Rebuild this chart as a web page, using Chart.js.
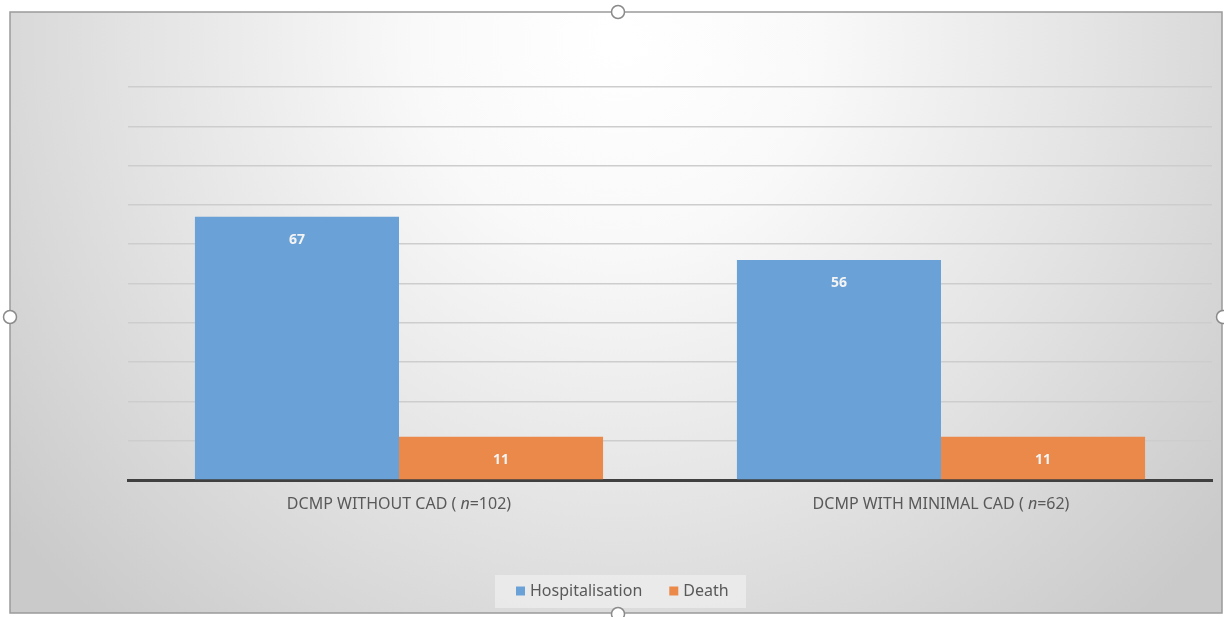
<!DOCTYPE html>
<html><head><meta charset="utf-8">
<script src="https://cdn.jsdelivr.net/npm/chart.js@4/dist/chart.umd.min.js"></script>
<style>html,body{margin:0;padding:0;background:#fff;}canvas{display:block;}</style>
</head><body>
<canvas id="c" width="1224" height="617"></canvas>
<script>
const categories = ["DCMP WITHOUT CAD", "DCMP WITH MINIMAL CAD"];
const groupSizes = [102, 62];
const seriesNames = ["Hospitalisation", "Death"];
const hospitalisation = [67, 56];
const death = [11, 11];
const yTicks = [0, 10, 20, 30, 40, 50, 60, 70, 80, 90, 100];

const FONT = "'Noto Sans', 'Open Sans', sans-serif";

const framePlugin = {
  id: 'frame',
  beforeDraw(chart) {
    const ctx = chart.ctx;
    const W = chart.width, H = chart.height;
    ctx.save();
    ctx.fillStyle = '#ffffff';
    ctx.fillRect(0, 0, W, H);
    const x0 = 10, y0 = 12, x1 = 1222, y1 = 613;
    const g = ctx.createRadialGradient(618, 40, 10, 618, 40, 780);
    g.addColorStop(0, '#ffffff');
    g.addColorStop(0.25, '#f9f9f9');
    g.addColorStop(0.6, '#e4e4e4');
    g.addColorStop(1, '#cacaca');
    ctx.fillStyle = g;
    ctx.fillRect(x0, y0, x1 - x0, y1 - y0);
    ctx.strokeStyle = '#9a9a9a';
    ctx.lineWidth = 1.5;
    ctx.strokeRect(x0, y0, x1 - x0, y1 - y0);
    ctx.restore();
  },
  afterDraw(chart) {
    const ctx = chart.ctx;
    ctx.save();
    const handles = [[618, 12], [10, 317], [1223, 317], [618, 614]];
    handles.forEach(([hx, hy]) => {
      ctx.beginPath();
      ctx.arc(hx, hy, 6.5, 0, Math.PI * 2);
      ctx.fillStyle = '#ffffff';
      ctx.fill();
      ctx.strokeStyle = '#8a8a8a';
      ctx.lineWidth = 1.5;
      ctx.stroke();
    });
    ctx.restore();
  }
};

const labelsPlugin = {
  id: 'valueLabels',
  afterDatasetsDraw(chart) {
    const ctx = chart.ctx;
    ctx.save();
    ctx.font = "bold 14px " + FONT;
    ctx.fillStyle = '#f4f4f4';
    ctx.textAlign = 'center';
    ctx.textBaseline = 'middle';
    chart.data.datasets.forEach((ds, di) => {
      const meta = chart.getDatasetMeta(di);
      meta.data.forEach((bar, i) => {
        ctx.fillText(String(ds.data[i]), bar.x, bar.y + 23);
      });
    });
    // category labels
    const xs = chart.scales.x;
    const ly = 504;
    const F = "16px " + FONT, FI = "italic 16px " + FONT;
    ctx.fillStyle = '#595959';
    ctx.textAlign = 'left';
    categories.forEach((c, i) => {
      const p1 = c + " ( ";
      const p2 = "n";
      const p3 = "=" + groupSizes[i] + ")";
      ctx.font = F;
      const w1 = ctx.measureText(p1).width;
      const w3 = ctx.measureText(p3).width;
      ctx.font = FI;
      const w2 = ctx.measureText(p2).width;
      const total = w1 + w2 + w3;
      let x = xs.getPixelForValue(i) - total / 2;
      ctx.font = F;
      ctx.fillText(p1, x, ly); x += w1;
      ctx.font = FI;
      ctx.fillText(p2, x, ly); x += w2;
      ctx.font = F;
      ctx.fillText(p3, x, ly);
    });
    // legend
    const lx0 = 495, ly0 = 575, lw = 251, lh = 33;
    ctx.fillStyle = 'rgba(240,240,240,0.7)';
    ctx.fillRect(lx0, ly0, lw, lh);
    ctx.font = "16px " + FONT;
    const cy = 591;
    let x = 516;
    chart.data.datasets.forEach((ds) => {
      ctx.fillStyle = ds.backgroundColor;
      ctx.fillRect(x, cy - 4.5, 9, 9);
      x += 14;
      ctx.fillStyle = '#595959';
      ctx.fillText(ds.label, x, cy);
      x += ctx.measureText(ds.label).width + 27;
    });
    ctx.restore();
  }
};

new Chart(document.getElementById('c'), {
  type: 'bar',
  data: {
    labels: categories,
    datasets: [
      { label: seriesNames[0], data: hospitalisation, backgroundColor: '#6aa1d6' },
      { label: seriesNames[1], data: death, backgroundColor: '#ea894a' }
    ]
  },
  options: {
    responsive: false,
    devicePixelRatio: 1,
    animation: false,
    layout: { padding: { left: 128, right: 12, top: 87, bottom: 137 } },
    plugins: { legend: { display: false }, tooltip: { enabled: false } },
    datasets: { bar: { categoryPercentage: 0.753, barPercentage: 1 } },
    scales: {
      x: {
        ticks: { display: false },
        grid: { display: false, drawTicks: false },
        border: { display: true, color: '#404040', width: 3 }
      },
      y: {
        min: yTicks[0], max: yTicks[yTicks.length - 1],
        afterBuildTicks(scale) { scale.ticks = yTicks.map(v => ({ value: v })); },
        ticks: { display: false },
        grid: { color: '#cdcdcd', lineWidth: 1.5, drawTicks: false },
        border: { display: false }
      }
    }
  },
  plugins: [framePlugin, labelsPlugin]
});
</script>
</body></html>
